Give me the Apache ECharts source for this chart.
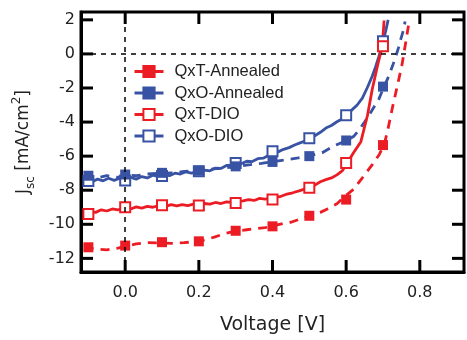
<!DOCTYPE html>
<html>
<head>
<meta charset="utf-8">
<script src="https://cdn.jsdelivr.net/npm/echarts@6/dist/echarts.min.js"></script>
<style>
  html, body { margin: 0; padding: 0; background: #fff; }
  #chart { width: 467px; height: 340px; }
</style>
</head>
<body>
<div id="chart"></div>
<script>
var myChart = echarts.init(document.getElementById('chart'));

// axis ranges and tick labels
var xMin = -0.12, xMax = 0.92;
var yMin = -12.8, yMax = 2.46;
var xTicks = [0, 0.2, 0.4, 0.6, 0.8];
var yTicks = [-12, -10, -8, -6, -4, -2, 0, 2];

// marker positions (every 0.1 V)
var markV = [-0.1, 0, 0.1, 0.2, 0.3, 0.4, 0.5, 0.6, 0.7];
var qxtAnnMarks = [-11.35, -11.25, -11.05, -11.0, -10.38, -10.12, -9.5, -8.55, -5.35];
var qxoAnnMarks = [-7.15, -7.08, -6.98, -6.85, -6.6, -6.34, -6.0, -5.08, -1.92];
var qxtDioMarks = [-9.4, -9.0, -8.88, -8.9, -8.75, -8.55, -7.85, -6.4, 0.45];
var qxoDioMarks = [-7.46, -7.43, -7.17, -6.88, -6.4, -5.72, -4.95, -3.6, 0.74];

// measured curves [V, J]
var qxtAnnCurve = [
  [-0.11, -11.35], [-0.08, -11.45], [-0.05, -11.5], [-0.02, -11.4], [0.0, -11.3],
  [0.03, -11.15], [0.06, -11.08], [0.1, -11.1], [0.13, -11.12], [0.16, -11.08],
  [0.2, -11.0], [0.22, -10.9], [0.242, -10.75], [0.27, -10.55], [0.3, -10.4],
  [0.33, -10.32], [0.35, -10.27], [0.38, -10.2], [0.4, -10.1], [0.43, -9.95],
  [0.45, -9.88], [0.48, -9.65], [0.5, -9.5], [0.53, -9.3], [0.549, -9.1],
  [0.575, -8.8], [0.594, -8.4], [0.62, -7.95], [0.644, -7.27], [0.671, -6.5],
  [0.69, -5.9], [0.703, -5.34], [0.712, -4.57], [0.725, -3.22], [0.739, -1.87],
  [0.751, -0.71], [0.76, 0.45], [0.771, 1.9]
];
var qxoAnnCurve = [
  [-0.11, -7.2], [-0.08, -7.3], [-0.05, -7.15], [-0.02, -7.25], [0.0, -7.1],
  [0.03, -7.15], [0.06, -7.05], [0.1, -7.0], [0.13, -6.98], [0.16, -6.9],
  [0.2, -6.85], [0.24, -6.75], [0.27, -6.7], [0.3, -6.6], [0.34, -6.5],
  [0.37, -6.42], [0.4, -6.33], [0.44, -6.2], [0.47, -6.1], [0.5, -5.98],
  [0.535, -5.8], [0.567, -5.4], [0.6, -5.1], [0.62, -4.85], [0.635, -4.47],
  [0.65, -4.0], [0.662, -3.6], [0.676, -3.1], [0.689, -2.64], [0.703, -1.92],
  [0.716, -1.29], [0.726, -0.7], [0.735, -0.13], [0.742, 0.35], [0.748, 0.84],
  [0.755, 1.35], [0.76, 1.9]
];
var qxtDioCurve = [
  [-0.11, -9.35], [-0.095, -9.25], [-0.08, -9.3], [-0.065, -9.15], [-0.05, -9.22],
  [-0.035, -9.1], [-0.02, -9.15], [0.0, -9.05], [0.015, -9.1], [0.03, -8.98],
  [0.045, -9.05], [0.06, -8.95], [0.075, -9.0], [0.09, -8.9], [0.11, -8.95],
  [0.125, -8.85], [0.14, -8.92], [0.155, -8.85], [0.17, -8.9], [0.185, -8.82],
  [0.2, -8.85], [0.215, -8.78], [0.23, -8.82], [0.245, -8.72], [0.26, -8.78],
  [0.275, -8.68], [0.29, -8.72], [0.3, -8.65], [0.32, -8.62], [0.335, -8.55],
  [0.35, -8.6], [0.365, -8.48], [0.38, -8.52], [0.4, -8.45], [0.42, -8.38],
  [0.436, -8.25], [0.455, -8.15], [0.472, -8.04], [0.485, -7.95], [0.5, -7.85],
  [0.515, -7.7], [0.53, -7.5], [0.545, -7.38], [0.56, -7.28], [0.575, -7.1],
  [0.59, -6.85], [0.603, -6.4], [0.62, -5.8], [0.64, -5.15], [0.658, -3.6],
  [0.671, -2.06], [0.685, -0.71], [0.698, 0.45], [0.703, 1.96]
];
var qxoDioCurve = [
  [-0.11, -7.45], [-0.09, -7.5], [-0.075, -7.35], [-0.06, -7.45], [-0.045, -7.3],
  [-0.03, -7.42], [-0.015, -7.3], [0.0, -7.4], [0.015, -7.25], [0.03, -7.35],
  [0.045, -7.2], [0.06, -7.28], [0.075, -7.12], [0.09, -7.2], [0.105, -7.08],
  [0.12, -7.15], [0.135, -7.0], [0.15, -7.05], [0.165, -6.92], [0.18, -7.0],
  [0.2, -6.88], [0.215, -6.82], [0.23, -6.86], [0.245, -6.7], [0.26, -6.72],
  [0.275, -6.55], [0.29, -6.55], [0.3, -6.42], [0.315, -6.45], [0.33, -6.3],
  [0.345, -6.32], [0.36, -6.15], [0.375, -6.12], [0.39, -5.95], [0.4, -5.85],
  [0.415, -5.75], [0.43, -5.6], [0.445, -5.5], [0.46, -5.35], [0.475, -5.22],
  [0.49, -5.1], [0.5, -4.95], [0.515, -4.8], [0.53, -4.6], [0.545, -4.35],
  [0.56, -4.2], [0.575, -3.98], [0.59, -3.8], [0.6, -3.6], [0.615, -3.3],
  [0.63, -3.0], [0.644, -2.6], [0.657, -2.0], [0.671, -1.3], [0.68, -0.75],
  [0.689, -0.15], [0.7, 0.7], [0.707, 1.3], [0.714, 2.0]
];

var red = '#ec1c24';
var blue = '#3953a4';

function pair(xs, ys) {
  return xs.map(function (x, i) { return [x, ys[i]]; });
}

function curve(name, data, color, dashed, sym) {
  return {
    name: name,
    type: 'line',
    data: data,
    showSymbol: false,
    symbol: sym,
    symbolSize: 10,
    color: color,
    itemStyle: { color: color, borderColor: color, borderWidth: 1.5 },
    lineStyle: { color: color, width: 2.8, type: dashed ? [9, 7] : 'solid' },
    z: 3
  };
}

function marks(data, color, hollow) {
  return {
    type: 'scatter',
    data: data,
    symbol: hollow ? 'emptyRect' : 'rect',
    symbolSize: 10,
    itemStyle: hollow
      ? { color: color, borderColor: color, borderWidth: 1.5, opacity: 1 }
      : { color: color, opacity: 1 },
    z: 4
  };
}

// inward frame ticks drawn as thin bar symbols at the tick values
function tickSeries(data, size, offset) {
  return {
    type: 'scatter',
    silent: true,
    clip: false,
    symbol: 'rect',
    symbolSize: size,
    symbolOffset: offset,
    itemStyle: { color: '#000', opacity: 1 },
    data: data,
    z: 5
  };
}

var tickFont = { fontFamily: 'DejaVu Sans', fontSize: 16, color: '#222' };

option = {
  animation: false,
  grid: { left: 81, right: 3, top: 12, bottom: 64, show: true, borderColor: '#000', borderWidth: 3, backgroundColor: 'transparent' },
  legend: {
    orient: 'vertical',
    left: 133,
    top: 63,
    padding: 0,
    itemWidth: 29,
    itemHeight: 14,
    itemGap: 4.5,
    lineStyle: { type: 'solid', width: 3 },
    textStyle: { fontFamily: 'Liberation Sans', fontSize: 16.5, lineHeight: 16, color: '#222', padding: [0, 0, 0, 6] },
    data: ['QxT-Annealed', 'QxO-Annealed', 'QxT-DIO', 'QxO-DIO']
  },
  xAxis: {
    type: 'value',
    min: xMin,
    max: xMax,
    name: 'Voltage [V]',
    nameLocation: 'middle',
    nameGap: 44,
    nameTextStyle: { fontFamily: 'DejaVu Sans', fontSize: 19, color: '#222' },
    axisLine: { show: true, onZero: false, lineStyle: { color: '#000', width: 3 } },
    axisTick: { show: false },
    axisLabel: Object.assign({ margin: 13, customValues: xTicks, formatter: function (v) { return v.toFixed(1); } }, tickFont),
    splitLine: { show: false }
  },
  yAxis: {
    type: 'value',
    min: yMin,
    max: yMax,
    name: '{j|J}{sub|sc}{j| [mA/cm}{sup|2}{j|]}',
    nameLocation: 'middle',
    nameGap: 44,
    nameTextStyle: {
      rich: {
        j: { fontFamily: 'DejaVu Sans', fontSize: 17, color: '#222', lineHeight: 26 },
        sub: { fontFamily: 'DejaVu Sans', fontSize: 12, color: '#222', verticalAlign: 'bottom', lineHeight: 26 },
        sup: { fontFamily: 'DejaVu Sans', fontSize: 12, color: '#222', verticalAlign: 'top', lineHeight: 26 }
      }
    },
    axisLine: { show: true, onZero: false, lineStyle: { color: '#000', width: 3 } },
    axisTick: { show: false },
    axisLabel: Object.assign({ margin: 6, customValues: yTicks }, tickFont),
    splitLine: { show: false }
  },
  series: [
    {
      type: 'line',
      data: [[-1, -100]],
      showSymbol: false,
      markLine: {
        silent: true,
        symbol: 'none',
        label: { show: false },
        lineStyle: { color: '#000', width: 1.5, type: [5, 5] },
        data: [{ yAxis: 0 }, { xAxis: 0 }]
      },
      z: 1
    },
    curve('QxO-DIO', qxoDioCurve, blue, false, 'emptyRect'),
    curve('QxO-Annealed', qxoAnnCurve, blue, true, 'rect'),
    curve('QxT-DIO', qxtDioCurve, red, false, 'emptyRect'),
    curve('QxT-Annealed', qxtAnnCurve, red, true, 'rect'),
    marks(pair(markV, qxoDioMarks), blue, true),
    marks(pair(markV, qxoAnnMarks), blue, false),
    marks(pair(markV, qxtDioMarks), red, true),
    marks(pair(markV, qxtAnnMarks), red, false),
    tickSeries(xTicks.map(function (v) { return [v, yMin]; }), [3, 12], [0, -6]),
    tickSeries(xTicks.map(function (v) { return [v, yMax]; }), [3, 12], [0, 6]),
    tickSeries(yTicks.map(function (v) { return [xMin, v]; }), [12, 3], [6, 0]),
    tickSeries(yTicks.map(function (v) { return [xMax, v]; }), [12, 3], [-6, 0])
  ]
};

myChart.setOption(option);
</script>
</body>
</html>
